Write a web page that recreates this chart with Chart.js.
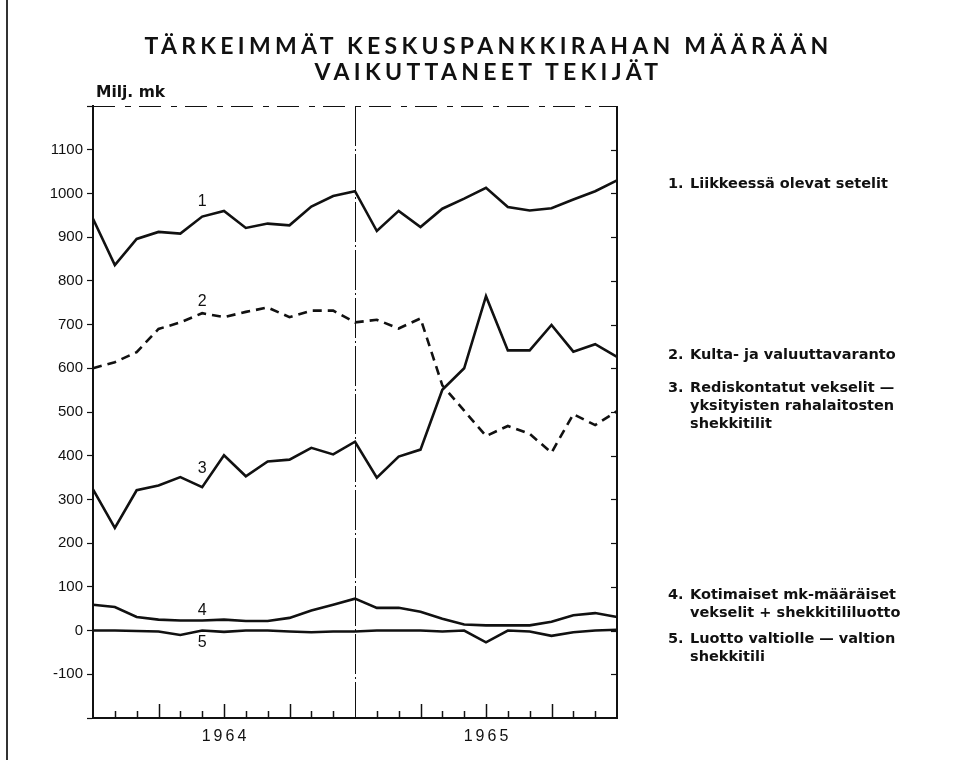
<!DOCTYPE html>
<html>
<head>
<meta charset="utf-8">
<script src="https://cdn.jsdelivr.net/npm/chart.js@4.4.1/dist/chart.umd.min.js"></script>
<style>
  html, body { margin: 0; padding: 0; background: #fff; }
  #wrap { position: relative; width: 962px; height: 760px; overflow: hidden; background: #fff; }
  #c { position: absolute; left: 0; top: 0; }
  .t { position: absolute; color: #111; white-space: nowrap; }
  .title { left: 0; width: 977px; text-align: center; font-family: Lato, "Open Sans", sans-serif; font-size: 23px; font-weight: 700; letter-spacing: 4.3px; }
  .leg { font-family: "DejaVu Sans", sans-serif; font-size: 14.5px; font-weight: 700; line-height: 18px; }
  .leg .n { position: absolute; left: 0; }
  .leg .x { position: absolute; left: 22px; }
  #edge { position: absolute; left: 6px; top: 0; width: 2px; height: 760px; background: #333; }
</style>
</head>
<body>
<div id="wrap">
  <canvas id="c" width="962" height="760"></canvas>
  <div id="edge"></div>
  <div class="t title" style="top:31px;">TÄRKEIMMÄT KESKUSPANKKIRAHAN MÄÄRÄÄN</div>
  <div class="t title" style="top:57px;">VAIKUTTANEET TEKIJÄT</div>
  <div class="t" style="left:96px; top:83px; font-family:'DejaVu Sans',sans-serif; font-size:15.5px; font-weight:700;">Milj. mk</div>

  <div class="t leg" style="left:668px; top:174px;"><span class="n">1.</span><span class="x">Liikkeessä olevat setelit</span></div>
  <div class="t leg" style="left:668px; top:345px;"><span class="n">2.</span><span class="x">Kulta- ja valuuttavaranto</span></div>
  <div class="t leg" style="left:668px; top:378px;"><span class="n">3.</span><span class="x">Rediskontatut vekselit —<br>yksityisten rahalaitosten<br>shekkitilit</span></div>
  <div class="t leg" style="left:668px; top:585px;"><span class="n">4.</span><span class="x">Kotimaiset mk-määräiset<br>vekselit + shekkitililuotto</span></div>
  <div class="t leg" style="left:668px; top:629px;"><span class="n">5.</span><span class="x">Luotto valtiolle — valtion<br>shekkitili</span></div>
</div>
<script>
// ---- data ----
const months = ['XII/63','I/64','II/64','III/64','IV/64','V/64','VI/64','VII/64','VIII/64','IX/64','X/64','XI/64','XII/64',
                'I/65','II/65','III/65','IV/65','V/65','VI/65','VII/65','VIII/65','IX/65','X/65','XI/65','XII/65'];
const yearLabels = ['1964', '1965'];
const yearIndex = [6, 18];
const seriesNames = ['1', '2', '3', '4', '5'];
const s1 = [942, 836, 896, 912, 908, 947, 960, 921, 931, 927, 970, 994, 1005, 914, 960, 923, 965, 988, 1013, 969, 961, 966, 986, 1005, 1030];
const s2 = [600, 614, 637, 690, 705, 726, 717, 729, 739, 717, 732, 732, 705, 711, 691, 714, 561, 503, 445, 468, 450, 407, 495, 470, 502];
const s3 = [323, 235, 321, 332, 351, 328, 401, 353, 387, 391, 418, 403, 432, 350, 398, 414, 551, 600, 765, 641, 641, 699, 638, 655, 626];
const s4 = [59, 54, 31, 25, 23, 23, 25, 22, 22, 29, 46, 59, 73, 52, 52, 43, 27, 14, 12, 12, 12, 20, 35, 40, 31];
const s5 = [0, 0, -1, -2, -10, 0, -3, 0, 0, -2, -4, -2, -2, 0, 0, 0, -2, 0, -27, 0, -2, -12, -4, 0, 2];
// series number annotations: [category index, value]
const seriesLabelPos = [[5, 981], [5, 752], [5, 370], [5, 46], [5, -27]];
const yMin = -200, yMax = 1200, yStep = 100;

const INK = '#111';

const framePlugin = {
  id: 'frame',
  afterDraw(chart) {
    const ctx = chart.ctx, a = chart.chartArea;
    const xs = chart.scales.x, ys = chart.scales.y;
    ctx.save();
    ctx.strokeStyle = INK;
    // top border (thin, broken like the print)
    ctx.lineWidth = 1;
    ctx.setLineDash([22, 10, 6, 8]);
    ctx.beginPath(); ctx.moveTo(a.left, a.top + 0.5); ctx.lineTo(a.right, a.top + 0.5); ctx.stroke();
    ctx.setLineDash([]);
    // right border
    ctx.lineWidth = 2;
    ctx.beginPath(); ctx.moveTo(a.right, a.top); ctx.lineTo(a.right, a.bottom); ctx.stroke();
    // right-side inner ticks
    ctx.lineWidth = 1.2;
    for (let v = yMin + yStep; v < yMax; v += yStep) {
      const y = Math.round(ys.getPixelForValue(v)) + 0.5;
      ctx.beginPath(); ctx.moveTo(a.right - 6, y); ctx.lineTo(a.right, y); ctx.stroke();
    }
    // year divider
    const xd = Math.round(xs.getPixelForValue(12)) + 0.5;
    ctx.lineWidth = 1;
    ctx.setLineDash([40, 3, 2, 3]);
    ctx.beginPath(); ctx.moveTo(xd, a.top); ctx.lineTo(xd, a.bottom); ctx.stroke();
    ctx.setLineDash([]);
    // month ticks on bottom axis (upwards), longer at quarters
    ctx.lineWidth = 1.5;
    for (let i = 1; i < months.length - 1; i++) {
      if (i === 12) continue;
      const x = Math.round(xs.getPixelForValue(i)) + 0.5;
      const len = (i % 3 === 0) ? 14 : 7;
      ctx.beginPath(); ctx.moveTo(x, a.bottom); ctx.lineTo(x, a.bottom - len); ctx.stroke();
    }
    // year labels
    ctx.fillStyle = INK;
    ctx.font = '16px "Liberation Sans", Arial, sans-serif';
    if ('letterSpacing' in ctx) ctx.letterSpacing = '3px';
    ctx.textAlign = 'center';
    ctx.textBaseline = 'middle';
    yearLabels.forEach((t, k) => {
      ctx.fillText(t, xs.getPixelForValue(yearIndex[k]) + 1.5, a.bottom + 19);
    });
    if ('letterSpacing' in ctx) ctx.letterSpacing = '0px';
    // series number labels
    ctx.font = '16px "Liberation Sans", Arial, sans-serif';
    seriesLabelPos.forEach((p, k) => {
      ctx.fillText(seriesNames[k], xs.getPixelForValue(p[0]), ys.getPixelForValue(p[1]));
    });
    ctx.restore();
  }
};

const common = { pointRadius: 0, borderColor: INK, borderWidth: 2.6, tension: 0, fill: false, borderJoinStyle: 'miter', borderCapStyle: 'butt' };

new Chart(document.getElementById('c'), {
  type: 'line',
  data: {
    labels: months,
    datasets: [
      Object.assign({ label: seriesNames[0], data: s1 }, common),
      Object.assign({ label: seriesNames[1], data: s2, borderDash: [9, 6] }, common),
      Object.assign({ label: seriesNames[2], data: s3 }, common),
      Object.assign({ label: seriesNames[3], data: s4 }, common),
      Object.assign({ label: seriesNames[4], data: s5 }, common)
    ]
  },
  options: {
    responsive: false,
    animation: false,
    devicePixelRatio: 1,
    layout: { padding: { left: 0, top: 106, right: 345, bottom: 0 } },
    plugins: { legend: { display: false }, title: { display: false }, tooltip: { enabled: false } },
    scales: {
      x: {
        type: 'category',
        offset: false,
        ticks: { display: false },
        grid: { display: false, drawOnChartArea: false, drawTicks: false },
        border: { display: true, color: INK, width: 2 },
        afterFit(s) { s.height = 42; }
      },
      y: {
        min: yMin, max: yMax,
        ticks: {
          stepSize: yStep,
          color: INK,
          padding: 4,
          font: { family: '"Liberation Sans", Arial, sans-serif', size: 15 },
          callback(v) { return (v === yMin || v === yMax) ? '' : String(v); }
        },
        grid: {
          drawOnChartArea: false, drawTicks: true, tickLength: 6, tickColor: INK, tickWidth: 1.2,
          color(c) { return (c.tick && (c.tick.value === yMin || c.tick.value === yMax)) ? 'rgba(0,0,0,0)' : INK; }
        },
        border: { display: true, color: INK, width: 2 },
        afterFit(s) { s.width = 93; }
      }
    }
  },
  plugins: [framePlugin]
});
</script>
</body>
</html>
